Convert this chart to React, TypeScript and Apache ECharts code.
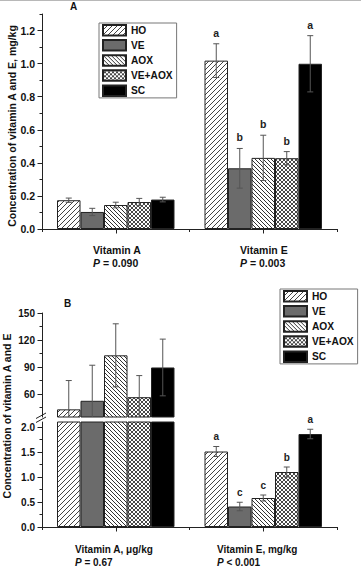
import React, { useEffect, useRef } from 'react';
import * as echarts from 'echarts';

const treatments = ['HO', 'VE', 'AOX', 'VE+AOX', 'SC'];
const categories = ['Vitamin A', 'Vitamin E'];

// Panel A (mg/kg)
const aVitAMean = [0.174, 0.103, 0.145, 0.163, 0.178];
const aVitAErr = [0.013, 0.022, 0.017, 0.022, 0.014];
const aVitEMean = [1.018, 0.367, 0.43, 0.428, 0.999];
const aVitEErr = [0.102, 0.12, 0.137, 0.04, 0.17];
const aVitELetters = ['a', 'b', 'b', 'b', 'a'];

// Panel B (vitamin A µg/kg, vitamin E mg/kg)
const bVitAMean = [43, 52.5, 103, 56.5, 89.5];
const bVitAErr = [32, 39.5, 35, 24, 31.5];
const bVitEMean = [1.51, 0.41, 0.58, 1.1, 1.86];
const bVitEErr = [0.1, 0.085, 0.06, 0.1, 0.095];
const bVitELetters = ['a', 'c', 'c', 'b', 'a'];

const aTicks = [0, 0.2, 0.4, 0.6, 0.8, 1.0, 1.2];
const aMinorTicks = [0.1, 0.3, 0.5, 0.7, 0.9, 1.1, 1.3];
const bUpperTicks = [60, 90, 120, 150];
const bUpperMinor = [45, 75, 105, 135];
const bLowerTicks = [0, 0.5, 1.0, 1.5, 2.0];
const bLowerMinor = [0.25, 0.75, 1.25, 1.75];

const aXLabels = [['Vitamin A', '= 0.090'], ['Vitamin E', '= 0.003']];
const bXLabels = [['Vitamin A, μg/kg', '= 0.67'], ['Vitamin E, mg/kg', '< 0.001']];
const titleA = 'Concentration of vitamin A and E, mg/kg';
const titleB = 'Concentration of vitamin A and E';

const FF = '"Liberation Sans", Arial, Helvetica, sans-serif';
const BAR_W = 23.5;
const AX = '#222';

function hatch(size: number, dir: string, color: string, lw: number) {
  const c = document.createElement('canvas');
  c.width = size;
  c.height = size;
  const ctx = c.getContext('2d')!;
  ctx.fillStyle = '#fff';
  ctx.fillRect(0, 0, size, size);
  ctx.strokeStyle = color;
  ctx.lineWidth = lw;
  ctx.beginPath();
  for (const o of [-size, 0, size]) {
    if (dir === '/' || dir === 'x') {
      ctx.moveTo(o, size);
      ctx.lineTo(o + size, 0);
    }
    if (dir === '\\' || dir === 'x') {
      ctx.moveTo(o, 0);
      ctx.lineTo(o + size, size);
    }
  }
  ctx.stroke();
  return { image: c.toDataURL(), repeat: 'repeat', imageWidth: size, imageHeight: size };
}

function buildOption() {
  const fills: any[] = [hatch(5, '/', '#444', 1), '#6b6b6b', hatch(4, '\\', '#333', 1), hatch(4, 'x', '#333', 0.9), '#000'];
  const lineStyle = { color: AX, width: 1 };
  const mainX = (g: number) => ({
    type: 'category', gridIndex: g, data: categories, position: 'bottom',
    axisLine: { show: true, lineStyle }, axisTick: { show: true, alignWithLabel: false, length: 3, lineStyle },
    axisLabel: { show: false }, splitLine: { show: false },
  });
  const centerX = (g: number) => ({
    type: 'category', gridIndex: g, data: categories, position: 'bottom',
    axisLine: { show: false }, axisTick: { show: true, alignWithLabel: true, length: 4.5, lineStyle },
    axisLabel: { show: false }, splitLine: { show: false },
  });
  const yMain = (g: number, min: number, max: number, ticks: number[], fmt: (v: number) => string, fs: number) => ({
    type: 'value', gridIndex: g, min, max, position: 'left',
    axisLine: { show: true, lineStyle },
    axisTick: { show: true, length: 4.5, customValues: ticks, lineStyle },
    axisLabel: { customValues: ticks, formatter: fmt, margin: 7, fontSize: fs, fontWeight: 'bold', fontFamily: FF, color: '#111' },
    splitLine: { show: false },
  });
  const yMinor = (g: number, min: number, max: number, ticks: number[]) => ({
    type: 'value', gridIndex: g, min, max, position: 'left',
    axisLine: { show: false }, axisTick: { show: true, length: 2.5, customValues: ticks, lineStyle },
    axisLabel: { show: false }, splitLine: { show: false },
  });
  const f1 = (v: number) => v.toFixed(1);
  const f0 = (v: number) => String(Math.round(v));

  const series: any[] = [];
  const barCommon = (i: number) => ({
    type: 'bar', name: treatments[i], barWidth: BAR_W, barGap: '0%', silent: true,
    emphasis: { disabled: true },
    itemStyle: { color: fills[i], borderColor: '#222', borderWidth: 1 },
  });
  treatments.forEach((_, i) => {
    series.push({ ...barCommon(i), xAxisIndex: 0, yAxisIndex: 0, data: [aVitAMean[i], aVitEMean[i]] });
    series.push({ ...barCommon(i), xAxisIndex: 2, yAxisIndex: 2, data: [bVitAMean[i], '-'] });
    series.push({ ...barCommon(i), xAxisIndex: 3, yAxisIndex: 4, data: [bVitAMean[i], bVitEMean[i]] });
  });

  type Item = { cat: number; i: number; mean: number; err: number; letter?: string };
  const errSeries = (xIdx: number, yIdx: number, items: Item[], clip: boolean, gap: number, fs: number) => ({
    type: 'custom', xAxisIndex: xIdx, yAxisIndex: yIdx, clip, silent: true, z: 5,
    data: items.map((d) => [d.cat, d.mean, d.err]),
    renderItem: (params: any, api: any) => {
      const d = items[params.dataIndex];
      const off = (d.i - 2) * BAR_W;
      const top = api.coord([d.cat, d.mean + d.err]);
      const bot = api.coord([d.cat, d.mean - d.err]);
      const x = top[0] + off;
      const st = { stroke: '#555', lineWidth: 1 };
      const children: any[] = [
        { type: 'line', shape: { x1: x, y1: top[1], x2: x, y2: bot[1] }, style: st },
        { type: 'line', shape: { x1: x - 3, y1: top[1], x2: x + 3, y2: top[1] }, style: st },
        { type: 'line', shape: { x1: x - 3, y1: bot[1], x2: x + 3, y2: bot[1] }, style: st },
      ];
      if (d.letter) {
        children.push({
          type: 'text',
          style: { text: d.letter, x, y: top[1] - gap, align: 'center', verticalAlign: 'middle', fontSize: fs, fontWeight: 'bold', fontFamily: FF, fill: '#222' },
        });
      }
      return { type: 'group', children };
    },
  });

  const aItems: Item[] = [];
  treatments.forEach((_, i) => {
    aItems.push({ cat: 0, i, mean: aVitAMean[i], err: aVitAErr[i] });
    aItems.push({ cat: 1, i, mean: aVitEMean[i], err: aVitEErr[i], letter: aVitELetters[i] });
  });
  const bUpItems: Item[] = treatments.map((_, i) => ({ cat: 0, i, mean: bVitAMean[i], err: bVitAErr[i] }));
  const bLowItems: Item[] = treatments.map((_, i) => ({ cat: 1, i, mean: bVitEMean[i], err: bVitEErr[i], letter: bVitELetters[i] }));
  series.push(errSeries(0, 0, aItems, false, 11, 10.5));
  series.push(errSeries(2, 2, bUpItems, true, 10, 10));
  series.push(errSeries(3, 4, bLowItems, false, 10, 10));

  const legendBase = {
    orient: 'vertical', data: treatments, itemWidth: 23, itemHeight: 10.5, itemGap: 2.6,
    borderColor: '#777', borderWidth: 1, padding: [1, 4, 1, 3], icon: 'rect', selectedMode: false,
    textStyle: { fontSize: 10.2, fontWeight: 'bold', fontFamily: FF, color: '#111' },
  };

  const xLabel = (x: number, y: number, l: string[], fs: number, lh: number) => ({
    type: 'text', x, y,
    style: {
      text: `{n|${l[0]}}\n{p|P}{n| ${l[1]}}`,
      rich: {
        n: { fontSize: fs, fontWeight: 'bold', fontFamily: FF, fill: '#111', lineHeight: lh },
        p: { fontSize: fs, fontWeight: 'bold', fontStyle: 'italic', fontFamily: FF, fill: '#111', lineHeight: lh },
      },
      align: 'left', verticalAlign: 'top',
    },
  });
  const plain = (x: number, y: number, text: string, fs: number, rot = 0) => ({
    type: 'text', x, y, rotation: rot,
    style: { text, fontSize: fs, fontWeight: 'bold', fontFamily: FF, fill: '#111', align: 'center', verticalAlign: 'middle' },
  });

  return {
    animation: false,
    backgroundColor: '#fff',
    grid: [
      { left: 42, top: 14, width: 295, height: 215 },
      { left: 42, top: 313, width: 295, height: 104 },
      { left: 42, top: 422, width: 295, height: 105 },
    ],
    xAxis: [mainX(0), centerX(0), { type: 'category', gridIndex: 1, data: categories, show: false }, mainX(2), centerX(2)],
    yAxis: [
      yMain(0, 0, 1.3, aTicks, f1, 10.5), yMinor(0, 0, 1.3, aMinorTicks),
      yMain(1, 34.5, 150, bUpperTicks, f0, 10), yMinor(1, 34.5, 150, bUpperMinor),
      yMain(2, 0, 2.1, bLowerTicks, f1, 10), yMinor(2, 0, 2.1, bLowerMinor),
    ],
    legend: [
      { ...legendBase, left: 99, top: 23 },
      { ...legendBase, left: 280, top: 289 },
    ],
    series,
    graphic: [
      { type: 'line', shape: { x1: 0, y1: 0.5, x2: 361, y2: 0.5 }, style: { stroke: '#b8b8b8', lineWidth: 1 } },
      plain(73.5, 6.5, 'A', 10),
      plain(67.5, 303.5, 'B', 10),
      plain(11.5, 126, titleA, 10.5, Math.PI / 2),
      plain(7, 416, titleB, 10.5, Math.PI / 2),
      xLabel(93, 243.5, aXLabels[0], 10.5, 13),
      xLabel(240, 243.5, aXLabels[1], 10.5, 13),
      xLabel(75, 542.5, bXLabels[0], 10, 13.4),
      xLabel(217, 542.5, bXLabels[1], 10, 13.4),
      { type: 'line', shape: { x1: 36, y1: 418.5, x2: 46, y2: 413 }, style: { stroke: '#222', lineWidth: 1 } },
      { type: 'line', shape: { x1: 36, y1: 422.5, x2: 46, y2: 417 }, style: { stroke: '#222', lineWidth: 1 } },
    ],
  };
}

export default function App() {
  const ref = useRef<HTMLDivElement>(null);
  useEffect(() => {
    document.body.style.margin = '0';
    const chart = echarts.init(ref.current!, null, { renderer: 'svg' });
    chart.setOption(buildOption() as any);
    return () => chart.dispose();
  }, []);
  return <div ref={ref} style={{ width: 361, height: 585, position: 'absolute', left: 0, top: 0, background: '#fff' }} />;
}
